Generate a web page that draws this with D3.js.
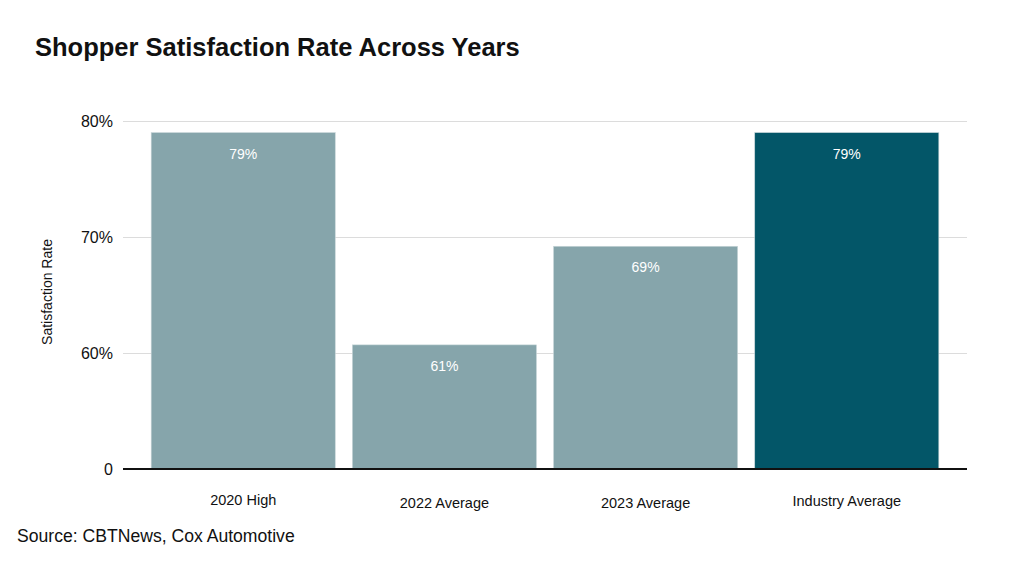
<!DOCTYPE html>
<html>
<head>
<meta charset="utf-8">
<script src="https://cdn.jsdelivr.net/npm/d3@7"></script>
<style>
  body { margin: 0; background: #fff; }
  text { font-family: "Liberation Sans", Arial, sans-serif; }
</style>
</head>
<body>
<svg id="chart" width="1024" height="565"></svg>
<script>
// data
var categories = ["2020 High", "2022 Average", "2023 Average", "Industry Average"];
var values = [79.0, 60.7, 69.2, 79.0];
var valueLabels = ["79%", "61%", "69%", "79%"];
var barColors = ["#86a5ab", "#86a5ab", "#86a5ab", "#035668"];
var yTicks = [50, 60, 70, 80];
var yTickLabels = ["0", "60%", "70%", "80%"];
var labelY = [505, 508, 508, 506];

var svg = d3.select("#chart");
var plotLeft = 123, plotRight = 967, plotTop = 121, plotBottom = 469;

//scales, axis is broken: floor drawn as 0
var x = d3.scaleBand().domain(categories).range([plotLeft, plotRight]).paddingInner(0.085).paddingOuter(0.14);
var y = d3.scaleLinear().domain([50, 80]).range([plotBottom, plotTop]);

//title
svg.append("text")
    .attr("x", 35).attr("y", 56)
    .attr("font-size", "25.5px").attr("font-weight", "bold")
    .attr("fill", "#111")
    .text("Shopper Satisfaction Rate Across Years");

//gridlines + tick labels
var yAxis = d3.axisLeft(y).tickValues(yTicks)
    .tickSize(-(plotRight - plotLeft)).tickPadding(10)
    .tickFormat(function(d, i) { return yTickLabels[i]; });
var gy = svg.append("g").attr("transform", "translate(" + plotLeft + ",0)").call(yAxis);
gy.select(".domain").remove();
gy.selectAll(".tick line").attr("stroke", "#dcdcdc").attr("stroke-width", 1);
gy.selectAll(".tick text").attr("font-size", "16px").attr("fill", "#111")
    .attr("font-family", "Liberation Sans, Arial, sans-serif");

//bars
svg.selectAll("rect.bar").data(values).enter().append("rect")
    .attr("class", "bar")
    .attr("x", function(d, i) { return x(categories[i]); })
    .attr("y", function(d) { return y(d); })
    .attr("width", x.bandwidth())
    .attr("height", function(d) { return y(50) - y(d); })
    .attr("fill", function(d, i) { return barColors[i]; })
    .attr("stroke", "#c9d6d9").attr("stroke-width", 0.6);

//value labels
svg.selectAll("text.val").data(values).enter().append("text")
    .attr("class", "val")
    .attr("x", function(d, i) { return x(categories[i]) + x.bandwidth() / 2; })
    .attr("y", function(d) { return y(d) + 26; })
    .attr("text-anchor", "middle")
    .attr("font-size", "14px").attr("fill", "#fff")
    .text(function(d, i) { return valueLabels[i]; });

//baseline
svg.append("line")
    .attr("x1", plotLeft).attr("x2", plotRight)
    .attr("y1", y(50)).attr("y2", y(50))
    .attr("stroke", "#111").attr("stroke-width", 2);

//category labels
svg.selectAll("text.cat").data(categories).enter().append("text")
    .attr("class", "cat")
    .attr("x", function(d) { return x(d) + x.bandwidth() / 2; })
    .attr("y", function(d, i) { return labelY[i]; })
    .attr("text-anchor", "middle")
    .attr("font-size", "14.5px").attr("fill", "#111")
    .text(function(d) { return d; });

//y axis title
svg.append("text")
    .attr("transform", "translate(52,292) rotate(-90)")
    .attr("text-anchor", "middle")
    .attr("font-size", "14px").attr("fill", "#111")
    .text("Satisfaction Rate");

//source
svg.append("text")
    .attr("x", 17).attr("y", 542)
    .attr("font-size", "17.6px").attr("fill", "#111")
    .text("Source: CBTNews, Cox Automotive");
</script>
</body>
</html>
